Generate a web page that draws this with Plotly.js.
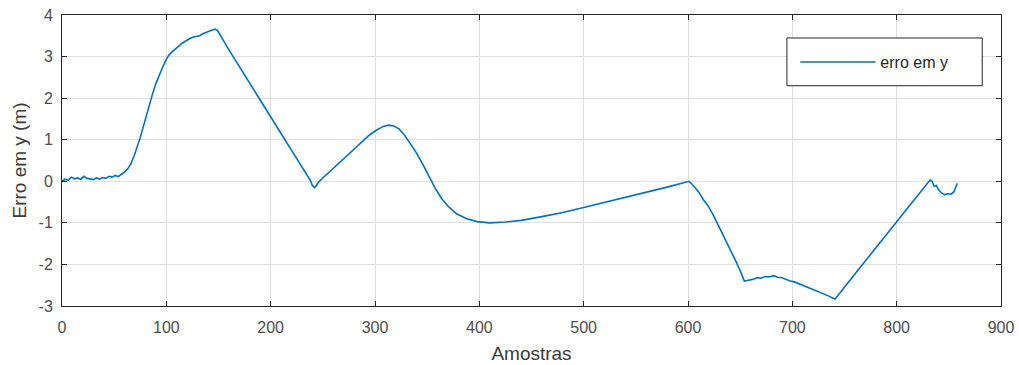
<!DOCTYPE html>
<html>
<head>
<meta charset="utf-8">
<script src="https://cdn.plot.ly/plotly-3.0.1.min.js"></script>
<style>html,body{margin:0;padding:0;background:#fff}#chart{width:1019px;height:365px}</style>
</head>
<body>
<div id="chart"></div>
<script>
const amostras = [
  0,3,6,9,12,15,18,21,24,27,30,33,36,39,42,45,48,51,54,57,60,
  63,66,69,72,75,78,81,84,87,90,93,96,99,102,105,108,111,114,117,120,123,126,129,132,135,138,141,144,147,149,
  160,180,200,220,235,238,240,242,244,246,
  250,257,265,275,285,295,302,308,313,318,323,328,334,340,346,352,358,364,370,378,388,398,410,425,440,460,480,500,520,540,560,580,595,601,
  605,610,615,620,625,630,635,640,645,650,654,658,662,666,670,674,678,682,686,690,694,698,702,706,710,714,718,722,726,730,734,738,741,
  760,780,800,820,830,832,834,836,838,840,843,846,849,852,855,858
];
const erroY = [
  0.00,0.05,0.03,0.10,0.06,0.08,0.05,0.12,0.07,0.06,0.04,0.08,0.05,0.09,0.07,0.12,0.10,0.14,0.11,0.17,0.22,
  0.30,0.42,0.60,0.82,1.05,1.32,1.60,1.88,2.12,2.35,2.55,2.72,2.88,3.02,3.10,3.17,3.24,3.30,3.35,3.40,3.44,3.47,3.49,3.50,3.55,3.58,3.62,3.64,3.66,3.63,
  3.16,2.35,1.55,0.74,0.12,0.02,-0.10,-0.15,-0.10,-0.02,
  0.08,0.24,0.42,0.66,0.90,1.12,1.24,1.32,1.35,1.33,1.26,1.12,0.90,0.67,0.40,0.10,-0.18,-0.42,-0.60,-0.78,-0.90,-0.97,-1.00,-0.98,-0.94,-0.85,-0.75,-0.63,-0.51,-0.38,-0.27,-0.14,-0.04,0.00,
  -0.10,-0.25,-0.45,-0.62,-0.85,-1.10,-1.35,-1.60,-1.88,-2.15,-2.40,-2.38,-2.36,-2.32,-2.33,-2.29,-2.30,-2.27,-2.31,-2.32,-2.36,-2.40,-2.42,-2.46,-2.50,-2.54,-2.58,-2.62,-2.66,-2.70,-2.75,-2.80,-2.83,
  -2.23,-1.60,-0.98,-0.35,-0.04,0.03,0.00,-0.12,-0.10,-0.20,-0.28,-0.32,-0.30,-0.31,-0.25,-0.05
];
const xTicks = [0,100,200,300,400,500,600,700,800,900];
const yTicks = [-3,-2,-1,0,1,2,3,4];
const seriesName = 'erro em y';

const fam = '"Liberation Sans", Arial, Helvetica, sans-serif';
const tickFont = {family: fam, size: 16, color: '#4d4d4d'};
const titleFont = {family: fam, size: 19, color: '#3a3a3a'};

Plotly.newPlot('chart', [{
  x: amostras, y: erroY, type: 'scatter', mode: 'lines', name: seriesName,
  line: {color: '#0072BD', width: 1.6}
}], {
  width: 1019, height: 365,
  margin: {l: 62, r: 18, t: 15, b: 59},
  paper_bgcolor: '#ffffff', plot_bgcolor: '#ffffff',
  font: {family: fam, size: 14, color: '#262626'},
  xaxis: {
    range: [0, 900], tickvals: xTicks, ticktext: xTicks.map(String),
    showgrid: true, gridcolor: '#dfdfdf', gridwidth: 1, zeroline: false,
    showline: true, linecolor: '#262626', linewidth: 1, mirror: 'ticks',
    ticks: 'inside', ticklen: 5, tickcolor: '#262626',
    ticklabelstandoff: 7,
    tickfont: tickFont,
    title: {text: 'Amostras', font: titleFont, standoff: 11}
  },
  yaxis: {
    range: [-3, 4], tickvals: yTicks, ticktext: yTicks.map(String),
    showgrid: true, gridcolor: '#dfdfdf', gridwidth: 1, zeroline: false,
    showline: true, linecolor: '#262626', linewidth: 1, mirror: 'ticks',
    ticks: 'inside', ticklen: 5, tickcolor: '#262626',
    ticklabelstandoff: 5,
    tickfont: tickFont,
    title: {text: 'Erro em y (m)', font: titleFont, standoff: 6}
  },
  showlegend: true,
  legend: {
    x: 0.781, y: 0.838, xanchor: 'left', yanchor: 'middle',
    bgcolor: 'rgba(0,0,0,0)', borderwidth: 0,
    itemwidth: 75,
    font: {family: fam, size: 16, color: '#262626'}
  },
  shapes: [{
    type: 'rect', xref: 'paper', yref: 'paper', layer: 'above',
    x0: 0.772, x1: 0.980, y0: 0.757, y1: 0.921,
    line: {color: '#262626', width: 1}, fillcolor: '#ffffff'
  }]
}, {displayModeBar: false, staticPlot: true});
</script>
</body>
</html>
